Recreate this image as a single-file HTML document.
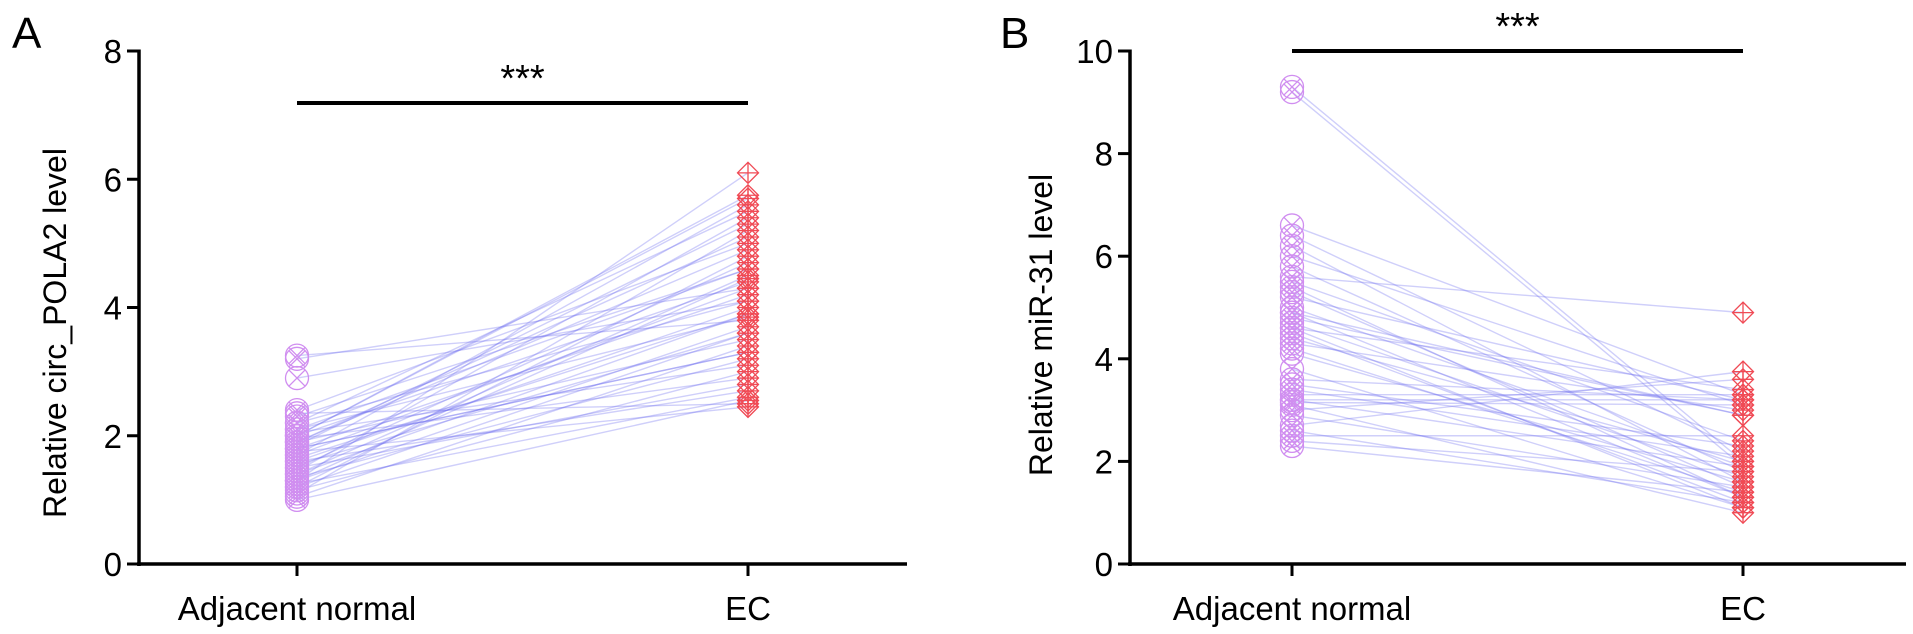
<!DOCTYPE html>
<html><head><meta charset="utf-8"><style>
html,body{margin:0;padding:0;background:#fff;}
svg{display:block;font-family:"Liberation Sans",Arial,sans-serif;}
</style></head><body>
<svg id="chart" width="1913" height="634" viewBox="0 0 1913 634" xmlns="http://www.w3.org/2000/svg"></svg>
<script>
const categories=["Adjacent normal","EC"];
const aNormal=[3.25,3.2,2.9,2.4,2.35,2.2,2.1,2.05,2.0,2.0,1.95,1.9,1.9,1.85,1.8,1.8,1.75,1.7,1.65,1.6,1.55,1.5,1.5,1.45,1.4,1.35,1.3,1.3,1.25,1.2,1.15,1.1,1.05,1.0,2.2,2.1,1.9,1.7,1.6,1.4,1.3,1.2,2.0,1.8,2.3];
const aEC=[3.8,4.3,4.1,5.0,2.5,5.5,4.6,3.1,5.7,4.4,2.9,4.9,3.5,5.3,3.3,4.2,2.45,5.6,3.9,4.0,3.6,4.7,2.8,5.4,4.5,3.2,3.7,6.1,2.6,4.8,3.0,5.2,3.4,2.55,4.1,3.85,5.1,4.3,2.7,3.9,4.45,3.6,5.75,3.3,4.6];
const bNormal=[9.3,9.2,6.6,6.4,6.2,6.0,5.8,5.6,5.5,5.3,5.2,5.0,4.9,4.8,4.7,4.6,4.5,4.4,4.3,4.2,4.1,3.8,3.6,3.4,3.3,3.2,3.2,3.15,3.1,3.0,2.9,2.7,2.6,2.5,2.4,2.3,5.4,4.9,4.6,3.5];
const bEC=[2.0,1.9,3.3,2.2,1.6,3.1,1.8,4.9,2.4,1.5,3.2,1.9,1.3,2.9,1.7,3.4,1.2,2.0,3.0,1.4,1.6,1.1,3.2,2.1,3.3,3.2,1.9,3.1,1.0,3.6,1.5,3.75,1.2,2.5,1.8,1.4,1.3,2.9,1.1,2.3];
const aTicks=[0,2,4,6,8];
const bTicks=[0,2,4,6,8,10];

const NS="http://www.w3.org/2000/svg";
const svg=document.getElementById('chart');
function mk(tag,attrs,parent){const e=document.createElementNS(NS,tag);for(const k in attrs)e.setAttribute(k,attrs[k]);(parent||svg).appendChild(e);return e;}

function panel(o){
  const g=mk('g',{});
  
  
  const y=v=>o.y0-(v-o.ymin)/(o.ymax-o.ymin)*(o.y0-o.y1);
  const x=i=>o.cx[i];
  const L=mk('text',{x:o.letterX,y:48,'font-size':44,fill:'#000'},g);L.textContent=o.letter;
  
  
  const lg=mk('g',{},g);
  
  
  o.left.forEach((v,i)=>{
    const l=mk('line',{x1:x(0),y1:y(v),x2:x(1),y2:y(o.right[i]),stroke:'rgba(110,110,240,0.33)','stroke-width':1.4},lg);
    
    
  });
  const r=11.5;
  o.left.forEach(v=>{
    const cy=y(v),cx=x(0);
    const m=mk('g',{stroke:'#d08ef0','stroke-width':1.3,fill:'none'},g);
    
    
    mk('circle',{cx:cx,cy:cy,r:r},m);
    const d=r*0.707;
    mk('line',{x1:cx-d,y1:cy-d,x2:cx+d,y2:cy+d},m);
    mk('line',{x1:cx-d,y1:cy+d,x2:cx+d,y2:cy-d},m);
  });
  o.right.forEach(v=>{
    const cy=y(v),cx=x(1),h=10.5;
    const m=mk('g',{stroke:'#f04a55','stroke-width':1.3,fill:'none'},g);
    
    
    mk('polygon',{points:`${cx},${cy-h} ${cx+h},${cy} ${cx},${cy+h} ${cx-h},${cy}`},m);
    mk('line',{x1:cx-h,y1:cy,x2:cx+h,y2:cy},m);
    mk('line',{x1:cx,y1:cy-h,x2:cx,y2:cy+h},m);
  });
  const ya=mk('line',{x1:o.ax,y1:o.y1-1.5,x2:o.ax,y2:o.y0+2,stroke:'#000','stroke-width':3.5},g);
  
  
  const xa=mk('line',{x1:o.ax-2,y1:o.y0,x2:o.xEnd,y2:o.y0,stroke:'#000','stroke-width':3.5},g);
  
  
  o.ticks.forEach(t=>{
    mk('line',{x1:o.ax-12,y1:y(t),x2:o.ax,y2:y(t),stroke:'#000','stroke-width':3},g);
    const tl=mk('text',{x:o.ax-17,y:y(t)+12,'font-size':33,'text-anchor':'end',fill:'#000'},g);
    tl.textContent=t;
    
    
  });
  categories.forEach((c,i)=>{
    mk('line',{x1:x(i),y1:o.y0,x2:x(i),y2:o.y0+12,stroke:'#000','stroke-width':3},g);
    const t=mk('text',{x:x(i),y:620,'font-size':33,'text-anchor':'middle',fill:'#000'},g);
    t.textContent=c;
    
    
  });
  const yt=mk('text',{x:0,y:0,'font-size':32,'text-anchor':'middle',fill:'#000',transform:`translate(${o.titleX},${o.titleY}) rotate(-90)`},g);
  yt.textContent=o.title;
  
  
  const sb=mk('line',{x1:x(0),y1:o.barY,x2:x(1),y2:o.barY,stroke:'#000','stroke-width':4},g);
  
  
  const st=mk('text',{x:(x(0)+x(1))/2,y:o.barY-12,'font-size':38,'text-anchor':'middle',fill:'#000'},g);
  st.textContent='***';
  
  
}
panel({name:'panel-a',letter:'A',letterX:12,left:aNormal,right:aEC,ticks:aTicks,ymin:0,ymax:8,y0:564,y1:51,ax:139,xEnd:907,cx:[297,748],title:'Relative circ_POLA2 level',titleX:66,titleY:333,barY:103});
panel({name:'panel-b',letter:'B',letterX:1000,left:bNormal,right:bEC,ticks:bTicks,ymin:0,ymax:10,y0:564,y1:51,ax:1130,xEnd:1906,cx:[1292,1743],title:'Relative miR-31 level',titleX:1052,titleY:325,barY:51});
</script>
</body></html>
